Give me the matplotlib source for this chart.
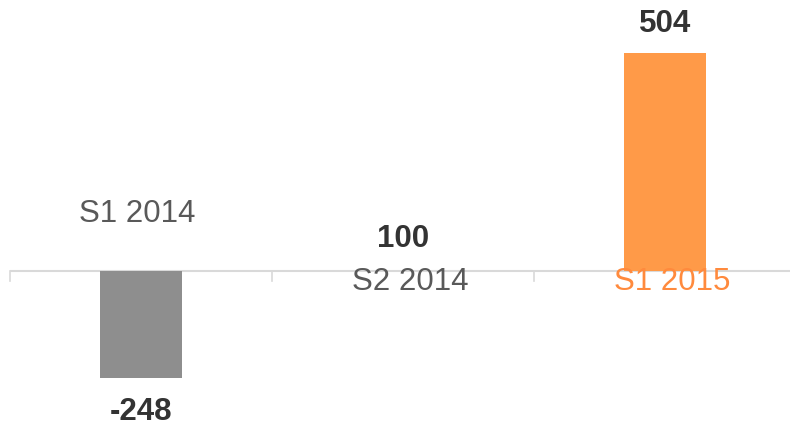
import matplotlib
matplotlib.use("Agg")
import matplotlib.pyplot as plt

# =========================================================
# DATA
# =========================================================
periods = ["S1 2014", "S2 2014", "S1 2015"]
values = [-248, 100, 504]
bar_colors = ["#8e8e8e", "none", "#ff9a48"]
label_colors = ["#595959", "#595959", "#ff8a3d"]

plt.rcParams["font.family"] = ["Liberation Sans", "DejaVu Sans"]
FS = 22.5

fig = plt.figure(figsize=(7.9, 4.27), dpi=100)
ax = fig.add_axes([10 / 790, 0, 786 / 790, 1])

x = list(range(len(periods)))
ax.bar(x, values, width=0.31, color=bar_colors, zorder=2)

ax.set_xlim(-0.5, 2.5)
ax.set_ylim(-358, 629)

# zero line + separator ticks
ax.axhline(0, color="#d9d9d9", lw=1.5, zorder=1)
for b in [-0.5, 0.5, 1.5, 2.5]:
    ax.plot([b, b], [0, -22], color="#d9d9d9", lw=1.2, clip_on=False)

for i, (name, v) in enumerate(zip(periods, values)):
    # value label + category label on the opposite side
    if v < 0:
        ax.text(i, v - 76, f"{v}", ha="center", va="center",
                fontsize=FS, fontweight="bold", color="#333333")
        ax.text(i - 0.015, 134, name, ha="center", va="center",
                fontsize=FS, color=label_colors[i])
    else:
        if bar_colors[i] == "none":
            ax.text(i, 76, f"{v}", ha="center", va="center",
                    fontsize=FS, fontweight="bold", color="#333333")
        else:
            ax.text(i, v + 69, f"{v}", ha="center", va="center",
                    fontsize=FS, fontweight="bold", color="#333333")
        ax.text(i + 0.028, -23, name, ha="center", va="center",
                fontsize=FS, color=label_colors[i])

ax.axis("off")

fig.savefig("out.png", dpi=100)
